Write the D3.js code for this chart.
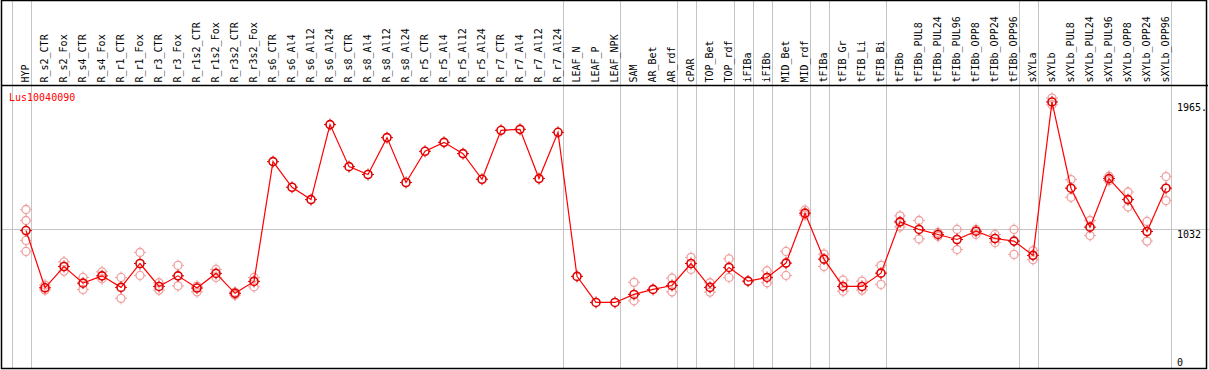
<!DOCTYPE html>
<html>
<head>
<meta charset="utf-8">
<script src="https://cdn.jsdelivr.net/npm/d3@7"></script>
<style>
  body { margin: 0; background: #fff; }
  text { font-family: "DejaVu Sans Mono", monospace; font-size: 10px; }
</style>
</head>
<body>
<div id="chart"></div>
<script>
const geneName = "Lus10040090";

const categories = ["HYP", "R_s2_CTR", "R_s2_Fox", "R_s4_CTR", "R_s4_Fox", "R_r1_CTR", "R_r1_Fox",
    "R_r3_CTR", "R_r3_Fox", "R_r1s2_CTR", "R_r1s2_Fox", "R_r3s2_CTR", "R_r3s2_Fox",
    "R_s6_CTR", "R_s6_Al4", "R_s6_Al12", "R_s6_Al24", "R_s8_CTR", "R_s8_Al4", "R_s8_Al12", "R_s8_Al24",
    "R_r5_CTR", "R_r5_Al4", "R_r5_Al12", "R_r5_Al24", "R_r7_CTR", "R_r7_Al4", "R_r7_Al12", "R_r7_Al24",
    "LEAF_N", "LEAF_P", "LEAF_NPK", "SAM", "AR_Bet", "AR_rdf", "cPAR", "TOP_Bet", "TOP_rdf",
    "iFIBa", "iFIBb", "MID_Bet", "MID_rdf", "tFIBa", "tFIB_Gr", "tFIB_Li", "tFIB_Bi", "tFIBb",
    "tFIBb_PUL8", "tFIBb_PUL24", "tFIBb_PUL96", "tFIBb_OPP8", "tFIBb_OPP24", "tFIBb_OPP96",
    "sXYLa", "sXYLb", "sXYLb_PUL8", "sXYLb_PUL24", "sXYLb_PUL96", "sXYLb_OPP8", "sXYLb_OPP24", "sXYLb_OPP96"];

// mean expression per sample
const meanValues = [1017, 595, 752, 629, 683, 598, 774, 605, 683, 593, 701, 554, 642,
    1525, 1336, 1245, 1798, 1488, 1430, 1702, 1371, 1601, 1667, 1584, 1395, 1756, 1763, 1400, 1741,
    679, 487, 487, 546, 583, 612, 774, 598, 745, 644, 671, 777, 1145, 806, 605, 605, 703, 1081,
    1025, 988, 951, 1012, 958, 939, 834, 1965, 1329, 1042, 1400, 1245, 1010, 1329];

// individual replicates
const replicates = [[1172, 1091, 944, 863], [615, 578], [786, 718], [671, 583], [713, 661], [671, 517],
    [855, 686], [632, 578], [760, 609], [607, 565], [730, 671], [563, 541], [671, 602],
    [], [], [], [], [], [], [], [], [], [], [], [], [], [], [], [],
    [], [], [], [635, 499], [], [666, 565], [819, 730], [632, 563], [808, 671],
    [], [720, 632], [863, 686], [1167, 1130], [843, 752], [651, 570], [644, 578], [760, 620], [1125, 1044],
    [1091, 955], [1003, 975], [1025, 877], [1025, 988], [988, 929], [1025, 841],
    [869, 802], [1993, 1945], [1393, 1262], [1091, 980], [1417, 1384], [1301, 1191], [1084, 939], [1415, 1238]];

// last sample of each group, a gray separator follows it
const groupEnds = ["HYP", "R_r7_Al24", "LEAF_NPK", "AR_rdf", "cPAR", "TOP_rdf", "iFIBa", "iFIBb",
    "MID_rdf", "tFIBa", "tFIB_Bi", "tFIBb_OPP96", "sXYLa", "sXYLb_OPP96"];

const yTicks = [0, 1032, 1965];
const yTickLabels = ["0", "1032", "1965."];

const width = 1209;
const height = 370;
const headerBottom = 85.5;
const plotBottom = 368.5;

let svg = d3.select("#chart")
    .append("svg")
    .attr("width", width)
    .attr("height", height);

let xScale = d3.scalePoint()
    .domain(categories)
    .range([26, 1166]);

let yScale = d3.scaleLinear()
    .domain([0, 1032])
    .range([plotBottom, 228.5]);

// vertical separators
let sepX = [xScale(categories[0]) - 19 + 4.5].concat(groupEnds.map(function (c) {
    return xScale(c) + 4.5;
}));
svg.append("g")
    .selectAll("line")
    .data(sepX)
    .enter()
    .append("line")
    .attr("x1", function (d) { return Math.round(d) + 0.5; })
    .attr("x2", function (d) { return Math.round(d) + 0.5; })
    .attr("y1", 0)
    .attr("y2", plotBottom)
    .attr("stroke", "#c4c4c4")
    .attr("stroke-width", 1);

// horizontal reference line
svg.append("line")
    .attr("x1", 1)
    .attr("x2", width)
    .attr("y1", Math.round(yScale(1032)) + 0.5)
    .attr("y2", Math.round(yScale(1032)) + 0.5)
    .attr("stroke", "#c4c4c4");

// frame
svg.append("rect")
    .attr("x", 1.5)
    .attr("y", 0.5)
    .attr("width", 1205)
    .attr("height", plotBottom - 0.5)
    .attr("fill", "none")
    .attr("stroke", "#000")
    .attr("stroke-width", 1.5);
svg.append("line")
    .attr("x1", 1)
    .attr("x2", 1208)
    .attr("y1", headerBottom)
    .attr("y2", headerBottom)
    .attr("stroke", "#000")
    .attr("stroke-width", 1.5);

// sample labels
svg.append("g")
    .selectAll("text")
    .data(categories)
    .enter()
    .append("text")
    .attr("transform", function (d) {
        return "translate(" + (xScale(d) - 0.5) + "," + 82.5 + ") rotate(-90)";
    })
    .attr("dy", "0.35em")
    .attr("text-anchor", "start")
    .attr("fill", "#000")
    .text(function (d) { return d; });

// right axis
let yAxis = d3.axisRight(yScale)
    .tickValues(yTicks)
    .tickSize(0)
    .tickPadding(0)
    .tickFormat(function (d, i) { return yTickLabels[i]; });
let axisG = svg.append("g")
    .attr("transform", "translate(1177,0)")
    .call(yAxis);
axisG.select(".domain").remove();
axisG.selectAll("text")
    .style("font-family", "DejaVu Sans Mono, monospace")
    .style("font-size", "10px")
    .attr("fill", "#000")
    .attr("dy", function (d) { return d === 0 ? "-0.3em" : "0.85em"; });

// gene title
svg.append("text")
    .attr("x", 9)
    .attr("y", 101)
    .attr("fill", "#ff0000")
    .text(geneName);

function drawMarker(g, x, y, color, sw) {
    g.append("circle")
        .attr("cx", x)
        .attr("cy", y)
        .attr("r", 4)
        .attr("fill", "none")
        .attr("stroke", color)
        .attr("stroke-width", sw);
    g.append("path")
        .attr("d", "M" + x + "," + (y - 6) + "v2M" + x + "," + (y + 4) + "v2M" + (x - 6) + "," + y + "h2M" + (x + 4) + "," + y + "h2")
        .attr("stroke", color)
        .attr("stroke-width", 1);
}

// replicate points
let repG = svg.append("g").attr("class", "replicates");
replicates.forEach(function (reps, i) {
    reps.forEach(function (v) {
        drawMarker(repG, xScale(categories[i]), yScale(v), "#f0a0a0", 1.3);
    });
});

// mean line
let line = d3.line()
    .x(function (d, i) { return xScale(categories[i]); })
    .y(function (d) { return yScale(d); });
svg.append("path")
    .datum(meanValues)
    .attr("d", line)
    .attr("fill", "none")
    .attr("stroke", "#ff0000")
    .attr("stroke-width", 1.2);

let meanG = svg.append("g").attr("class", "means");
meanValues.forEach(function (v, i) {
    drawMarker(meanG, xScale(categories[i]), yScale(v), "#e00000", 1.6);
});
</script>
</body>
</html>
